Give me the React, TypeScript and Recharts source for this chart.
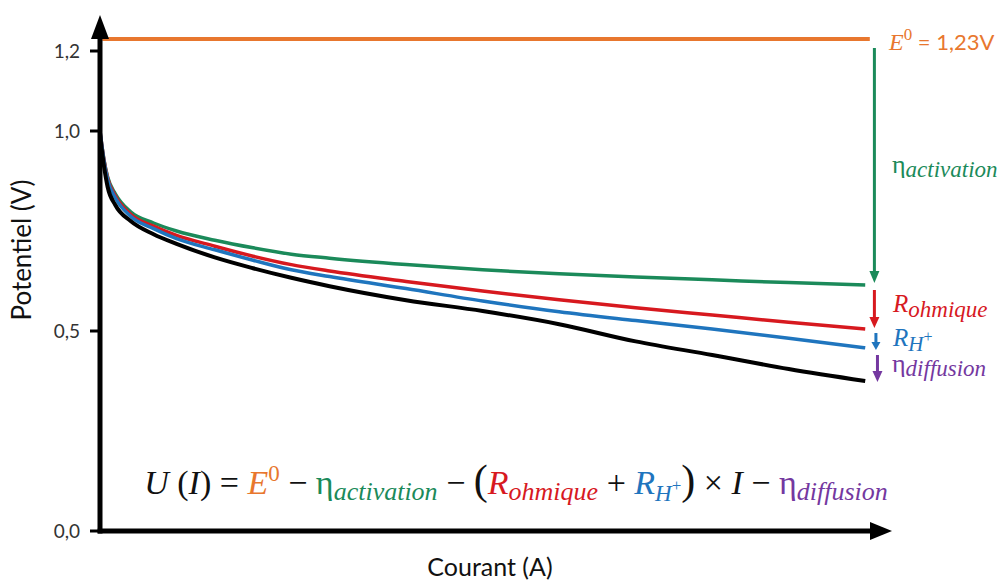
import React from 'react';
import { LineChart, Line, XAxis, YAxis, ReferenceLine } from 'recharts';

// Courant (unités arbitraires, 0 -> 100 = fin des courbes)
const currents = [0, 0.5, 1, 2, 4, 7, 10, 15, 20, 25, 30, 40, 50, 60, 70, 80, 90, 100];
// Potentiels (V)
const activation = [1.0, 0.93, 0.885, 0.843, 0.798, 0.77, 0.75, 0.727, 0.708, 0.692, 0.682, 0.666, 0.653, 0.643, 0.635, 0.628, 0.621, 0.615];
const ohmique = [1.0, 0.93, 0.882, 0.838, 0.792, 0.762, 0.739, 0.712, 0.687, 0.666, 0.65, 0.624, 0.6, 0.578, 0.558, 0.54, 0.522, 0.505];
const protons = [1.0, 0.927, 0.878, 0.833, 0.787, 0.756, 0.731, 0.703, 0.677, 0.653, 0.636, 0.606, 0.575, 0.548, 0.526, 0.505, 0.482, 0.458];
const tension = [0.99, 0.915, 0.86, 0.815, 0.775, 0.742, 0.718, 0.684, 0.657, 0.633, 0.612, 0.577, 0.55, 0.517, 0.474, 0.44, 0.405, 0.375];

const yTicks = [0, 0.5, 1.0, 1.2];
const E0 = 1.23;

// flèches de droite : [début, fin] en V
const arrowX = 101.2;
const arrowActivation = [1.2075, 0.62];
const arrowOhmique = [0.6025, 0.5075];
const arrowProtons = [0.495, 0.4525];
const arrowDiffusion = [0.44, 0.3725];

const ORANGE = '#E8772E';
const GREEN = '#1B8A5A';
const RED = '#D7191F';
const BLUE = '#1F75BE';
const PURPLE = '#7438A0';

const SANS = 'Lato, "Open Sans", sans-serif';
const SERIF = '"Liberation Serif", serif';

const data = currents.map((i, k) => ({
  i,
  activation: activation[k],
  ohmique: ohmique[k],
  protons: protons[k],
  tension: tension[k],
}));

const arrow = (color: string, width: number, L: number, W: number) => (p: any) => {
  const { x1, y1, x2, y2 } = p;
  const dx = x2 - x1;
  const dy = y2 - y1;
  const len = Math.hypot(dx, dy) || 1;
  const ux = dx / len;
  const uy = dy / len;
  const bx = x2 - ux * L;
  const by = y2 - uy * L;
  return (
    <g>
      <line x1={x1} y1={y1} x2={bx + ux} y2={by + uy} stroke={color} strokeWidth={width} />
      <polygon
        points={`${x2},${y2} ${bx - uy * W},${by + ux * W} ${bx + uy * W},${by - ux * W}`}
        fill={color}
      />
    </g>
  );
};

const fmt = (v: number) => v.toFixed(1).replace('.', ',');

export default function App() {
  return (
    <div style={{ position: 'absolute', left: 0, top: 0, width: 1005, height: 584, background: '#fff' }}>
      <LineChart width={1005} height={584} data={data} margin={{ top: 15, right: 113, bottom: 53, left: 40 }}>
        <XAxis type="number" dataKey="i" domain={[0, 103.5]} hide />
        <YAxis
          type="number"
          domain={[0, 1.29]}
          ticks={yTicks}
          width={60}
          axisLine={false}
          tickSize={10}
          tickMargin={10}
          tickFormatter={fmt}
          tickLine={{ stroke: '#000', strokeWidth: 3 }}
          tick={{ fill: '#333', fontSize: 19, fontFamily: SANS }}
        />
        <ReferenceLine
          segment={[{ x: 0.3, y: E0 }, { x: 100.6, y: E0 }]}
          stroke={ORANGE}
          strokeWidth={4}
          ifOverflow="visible"
        />
        <Line dataKey="activation" type="monotone" stroke={GREEN} strokeWidth={3.5} dot={false} isAnimationActive={false} />
        <Line dataKey="ohmique" type="monotone" stroke={RED} strokeWidth={3.5} dot={false} isAnimationActive={false} />
        <Line dataKey="protons" type="monotone" stroke={BLUE} strokeWidth={3.5} dot={false} isAnimationActive={false} />
        <Line dataKey="tension" type="monotone" stroke="#000" strokeWidth={4} dot={false} isAnimationActive={false} />

        <ReferenceLine segment={[{ x: arrowX, y: arrowActivation[0] }, { x: arrowX, y: arrowActivation[1] }]} ifOverflow="visible" shape={arrow(GREEN, 3, 12, 5)} />
        <ReferenceLine segment={[{ x: arrowX, y: arrowOhmique[0] }, { x: arrowX, y: arrowOhmique[1] }]} ifOverflow="visible" shape={arrow(RED, 3, 11, 5)} />
        <ReferenceLine segment={[{ x: arrowX + 0.2, y: arrowProtons[0] }, { x: arrowX + 0.2, y: arrowProtons[1] }]} ifOverflow="visible" shape={arrow(BLUE, 3, 8, 4.5)} />
        <ReferenceLine segment={[{ x: arrowX + 0.4, y: arrowDiffusion[0] }, { x: arrowX + 0.4, y: arrowDiffusion[1] }]} ifOverflow="visible" shape={arrow(PURPLE, 3, 11, 5)} />

        {/* axes avec flèches */}
        <ReferenceLine segment={[{ x: 0, y: -0.006 }, { x: 0, y: 1.29 }]} ifOverflow="visible" shape={arrow('#000', 5, 24, 9)} />
        <ReferenceLine segment={[{ x: -0.3, y: 0 }, { x: 103.5, y: 0 }]} ifOverflow="visible" shape={arrow('#000', 5, 22, 9)} />

        {/* titres des axes */}
        <text x={31} y={250} transform="rotate(-90 31 250)" textAnchor="middle" fontFamily={SANS} fontSize={26} fill="#111">
          Potentiel (V)
        </text>
        <text x={490} y={576} textAnchor="middle" fontFamily={SANS} fontSize={25} fill="#111">
          Courant (A)
        </text>

        {/* annotations à droite */}
        <text x={889} y={50} fill={ORANGE} fontSize={24}>
          <tspan fontFamily={SERIF} fontStyle="italic">E</tspan>
          <tspan fontFamily={SERIF} fontSize={17} dy={-10}>0</tspan>
          <tspan fontFamily={SANS} fontSize={22} dy={10}> = 1,23V</tspan>
        </text>
        <text x={892} y={173} fill={GREEN} fontFamily={SERIF} fontSize={26}>
          <tspan>η</tspan>
          <tspan fontSize={23} fontStyle="italic" dy={4}>activation</tspan>
        </text>
        <text x={893} y={312} fill={RED} fontFamily={SERIF} fontSize={25}>
          <tspan fontStyle="italic">R</tspan>
          <tspan fontSize={23} fontStyle="italic" dy={5}>ohmique</tspan>
        </text>
        <text x={893} y={346} fill={BLUE} fontFamily={SERIF} fontSize={25}>
          <tspan fontStyle="italic">R</tspan>
          <tspan fontSize={21} fontStyle="italic" dy={5}>H</tspan>
          <tspan fontSize={16} dy={-9}>+</tspan>
        </text>
        <text x={892} y={372} fill={PURPLE} fontFamily={SERIF} fontSize={26}>
          <tspan>η</tspan>
          <tspan fontSize={23} fontStyle="italic" dy={4}>diffusion</tspan>
        </text>

        {/* équation */}
        <text x={516} y={494} textAnchor="middle" fontFamily={SERIF} fontSize={34} fill="#111">
          <tspan fontStyle="italic">U</tspan>
          <tspan> (</tspan>
          <tspan fontStyle="italic">I</tspan>
          <tspan>) = </tspan>
          <tspan fill={ORANGE} fontStyle="italic">E</tspan>
          <tspan fill={ORANGE} fontSize={23} dy={-13}>0</tspan>
          <tspan dy={13}> − </tspan>
          <tspan fill={GREEN}>η</tspan>
          <tspan fill={GREEN} fontStyle="italic" fontSize={26} dy={6}>activation</tspan>
          <tspan dy={-6}> − </tspan>
          <tspan fontSize={42}>(</tspan>
          <tspan fill={RED} fontStyle="italic">R</tspan>
          <tspan fill={RED} fontStyle="italic" fontSize={26} dy={6}>ohmique</tspan>
          <tspan dy={-6}> + </tspan>
          <tspan fill={BLUE} fontStyle="italic">R</tspan>
          <tspan fill={BLUE} fontStyle="italic" fontSize={23} dy={7}>H</tspan>
          <tspan fill={BLUE} fontSize={17} dy={-10}>+</tspan>
          <tspan fontSize={42} dy={3}>)</tspan>
          <tspan> × </tspan>
          <tspan fontStyle="italic">I</tspan>
          <tspan> − </tspan>
          <tspan fill={PURPLE}>η</tspan>
          <tspan fill={PURPLE} fontStyle="italic" fontSize={26} dy={6}>diffusion</tspan>
        </text>
      </LineChart>
    </div>
  );
}
